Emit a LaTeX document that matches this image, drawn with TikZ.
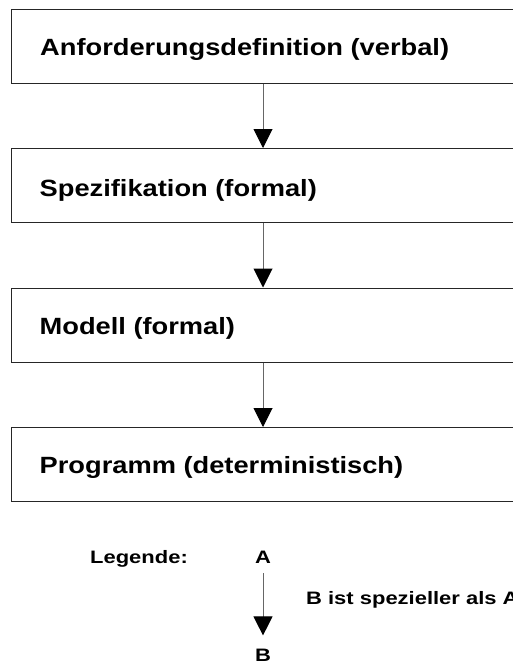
\documentclass[tikz,border=0pt]{standalone}
\usepackage{fontspec}
\usepackage{graphicx}
\setmainfont{Liberation Sans}
\usetikzlibrary{arrows.meta}
\newcommand{\boxtxt}[1]{\scalebox{1.16}[1]{\fontsize{23.5pt}{27pt}\selectfont\bfseries #1}}
\newcommand{\legtxt}[1]{\scalebox{1.22}[1]{\fontsize{18pt}{21pt}\selectfont\bfseries #1}}
\begin{document}
\begin{tikzpicture}[x=1pt,y=-1pt,
  stage/.style={draw=black!85,line width=1.3pt,rectangle,minimum width=520pt,minimum height=74pt,anchor=north west,inner sep=0pt},
  label/.style={anchor=base west,inner sep=0pt},
  arr/.style={draw=black!60,line width=1pt,-{Triangle[width=19pt,length=19pt,color=black,fill=black]}}]
\useasboundingbox (0,0) rectangle (513,666);
\node[stage] (b1) at (11,9) {};
\node[stage] (b2) at (11,148) {};
\node[stage] (b3) at (11,287.5) {};
\node[stage] (b4) at (11,427) {};
\node[label] (t1) at (40,55.5) {\boxtxt{Anforderungsdefinition (verbal)}};
\node[label] (t2) at (39.5,196.7) {\boxtxt{Spezifikation (formal)}};
\node[label] (t3) at (39.5,334.7) {\boxtxt{Modell (formal)}};
\node[label] (t4) at (39.5,473.3) {\boxtxt{Programm (deterministisch)}};
\coordinate (ax) at (263,0);
\draw[arr] (b1.south -| ax) -- (b2.north -| ax);
\draw[arr] (b2.south -| ax) -- (b3.north -| ax);
\draw[arr] (b3.south -| ax) -- (b4.north -| ax);
\node[label] (leg) at (90,563) {\legtxt{Legende:}};
\node[anchor=base,inner sep=0pt] (la) at (263,563) {\legtxt{A}};
\node[anchor=base,inner sep=0pt] (lb) at (263,661) {\legtxt{B}};
\draw[arr,shorten <=10pt,shorten >=13pt] (la.south) -- (lb.north);
\node[label] (lt) at (306,604) {\legtxt{B ist spezieller als A}};
\end{tikzpicture}
\end{document}
